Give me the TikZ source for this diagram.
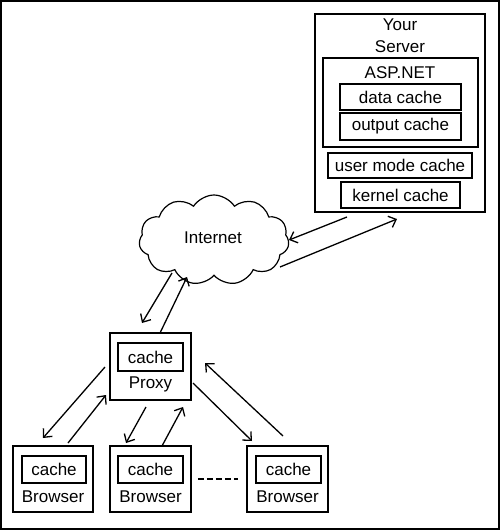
\documentclass[tikz,border=0pt]{standalone}
\usepackage{fontspec}
\setmainfont{Liberation Sans}
\usetikzlibrary{arrows.meta,shapes.symbols}
\begin{document}
\begin{tikzpicture}[x=1pt,y=-1pt,
  box/.style={draw,line width=1.5pt,inner sep=0pt,rectangle},
  txt/.style={font=\fontsize{17}{22}\selectfont,inner sep=0pt},
  arr/.style={line width=1.3pt,-{Straight Barb[length=6.5pt,width=12pt,line width=1.3pt]}}]
\useasboundingbox (0,0) rectangle (500,530);
\node[draw,line width=2pt,minimum width=498pt,minimum height=528pt,inner sep=0pt] (frame) at (250,265) {};
% server
\node[box,minimum width=170pt,minimum height=198pt] (server) at (400,113) {};
\node[txt,align=center] (servertxt) at (400,36) {Your\\Server};
\node[box,minimum width=155pt,minimum height=89pt] (asp) at (400.5,102.5) {};
\node[txt] (asptxt) at (400,73) {ASP.NET};
\node[box,txt,minimum width=121pt,minimum height=26pt] (data) at (400.5,97) {data cache};
\node[box,txt,minimum width=121pt,minimum height=27pt] (output) at (400.5,126.5) {output cache};
\node[box,txt,minimum width=144pt,minimum height=25pt] (user) at (400,165.5) {user mode cache};
\node[box,txt,minimum width=119pt,minimum height=26pt] (kernel) at (400.5,195) {kernel cache};
% cloud
\node[cloud,draw,line width=1.2pt,cloud puffs=11,cloud puff arc=115,aspect=1.65,minimum width=150pt,minimum height=90pt,inner sep=0pt] (inet) at (214,240) {};
\node[txt] (inettxt) at (213,238) {Internet};
% proxy
\node[box,minimum width=81pt,minimum height=67pt] (proxy) at (150.5,366.5) {};
\node[box,txt,minimum width=65pt,minimum height=28pt] (pcache) at (150.5,357) {cache};
\node[txt] (ptxt) at (150.5,384) {Proxy};
% browsers
\node[box,minimum width=80pt,minimum height=66pt] (b1) at (53,479) {};
\node[box,txt,minimum width=64pt,minimum height=27pt] (b1c) at (54,469.5) {cache};
\node[txt] (b1t) at (53,497) {Browser};
\node[box,minimum width=81pt,minimum height=66pt] (b2) at (150.5,479) {};
\node[box,txt,minimum width=65pt,minimum height=27pt] (b2c) at (150.5,469.5) {cache};
\node[txt] (b2t) at (150.5,497) {Browser};
\node[box,minimum width=81pt,minimum height=66pt] (b3) at (287.5,479) {};
\node[box,txt,minimum width=65pt,minimum height=27pt] (b3c) at (288.5,469.5) {cache};
\node[txt] (b3t) at (287.5,497) {Browser};
\draw[line width=1.3pt,dash pattern=on 6pt off 3pt,shorten <=6pt,shorten >=8pt] (b2) -- (b3);
% arrow endpoints
\coordinate (s1) at (347,217); \coordinate (c1) at (289,240);
\coordinate (c2) at (280,267); \coordinate (s2) at (397,219);
\coordinate (c3) at (172,273); \coordinate (p3) at (142,323);
\coordinate (p4) at (160,333); \coordinate (c4) at (187,277);
\coordinate (pa) at (105,367); \coordinate (ba) at (43,438);
\coordinate (bb) at (68,443); \coordinate (pb) at (106,395);
\coordinate (pc) at (146,407); \coordinate (bc) at (126,443);
\coordinate (bd) at (162,446); \coordinate (pd) at (183,407);
\coordinate (pe) at (193,383); \coordinate (be) at (252,441);
\coordinate (bf) at (283,436); \coordinate (pf) at (205,363);
\draw[arr] (s1) -- (c1);
\draw[arr] (c2) -- (s2);
\draw[arr] (c3) -- (p3);
\draw[arr] (p4) -- (c4);
\draw[arr] (pa) -- (ba);
\draw[arr] (bb) -- (pb);
\draw[arr] (pc) -- (bc);
\draw[arr] (bd) -- (pd);
\draw[arr] (pe) -- (be);
\draw[arr] (bf) -- (pf);
\end{tikzpicture}
\end{document}
